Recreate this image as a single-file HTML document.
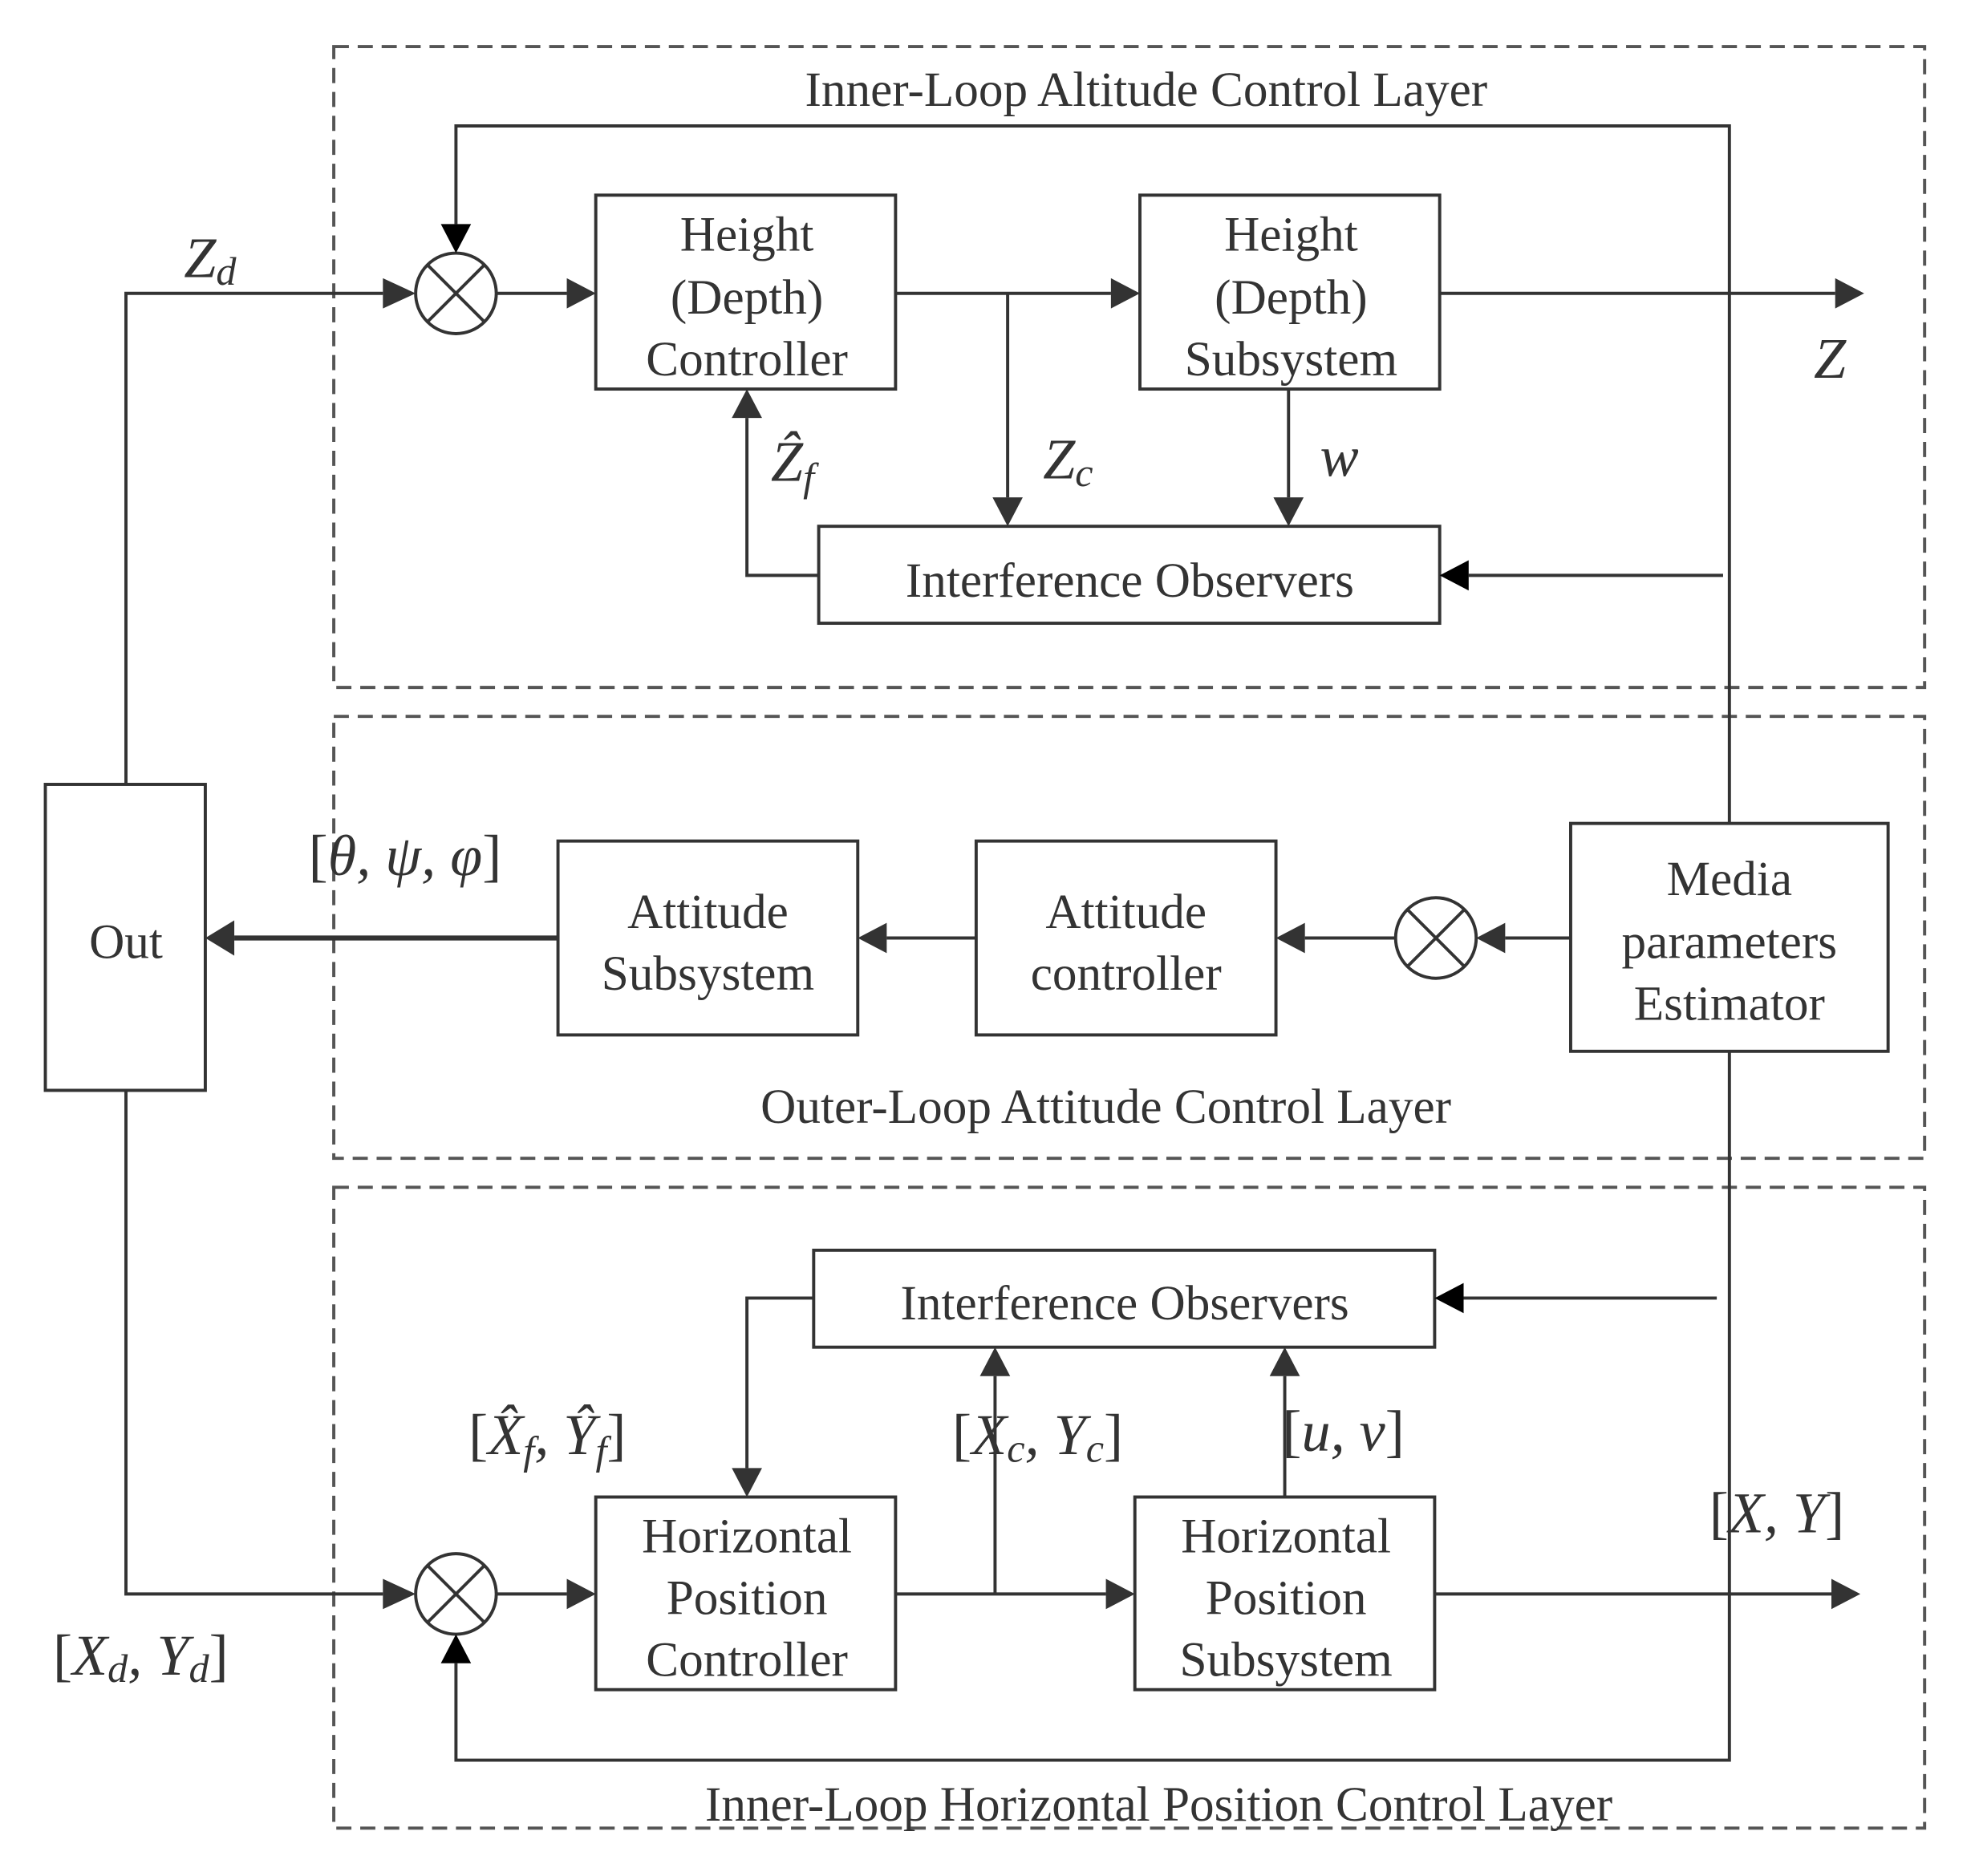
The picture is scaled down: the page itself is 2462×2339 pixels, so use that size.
<!DOCTYPE html>
<html><head><meta charset="utf-8"><style>
html,body{margin:0;padding:0;background:#fff;}
svg{display:block;}
text{font-family:"Liberation Serif",serif;fill:#333;}
.t{font-size:39px;text-anchor:middle;}
.m{font-size:46px;font-style:italic;}
</style></head><body>
<svg width="2462" height="2339" viewBox="0 0 1568 1490" preserveAspectRatio="none" xmlns="http://www.w3.org/2000/svg">
<g fill="none" stroke="#555" stroke-width="2.5" stroke-dasharray="12,7">
<rect x="265" y="37" width="1263" height="509"/>
<rect x="265" y="569" width="1263" height="351"/>
<rect x="265" y="943" width="1263" height="509"/>
</g>
<g fill="#fff" stroke="#333" stroke-width="2.5">
<rect x="36" y="623" width="127" height="243"/>
<rect x="473" y="155" width="238" height="154"/>
<rect x="905" y="155" width="238" height="154"/>
<rect x="650" y="418" width="493" height="77"/>
<rect x="1247" y="654" width="252" height="181"/>
<rect x="775" y="668" width="238" height="154"/>
<rect x="443" y="668" width="238" height="154"/>
<rect x="646" y="993" width="493" height="77"/>
<rect x="473" y="1189" width="238" height="153"/>
<rect x="901" y="1189" width="238" height="153"/>
</g>
<g stroke="#333" stroke-width="2.5" fill="none">
<circle cx="362" cy="233" r="32"/><path d="M339,210 L385,256 M385,210 L339,256"/>
<circle cx="1140" cy="745" r="32"/><path d="M1117,722 L1163,768 M1163,722 L1117,768"/>
<circle cx="362" cy="1266" r="32"/><path d="M339,1243 L385,1289 M385,1243 L339,1289"/>
</g>
<g stroke="#333" stroke-width="2.5" fill="none">
<polyline points="100,623 100,233 304,233"/>
<polyline points="1373,654 1373,100 362,100 362,178"/>
<line x1="394" y1="233" x2="450" y2="233"/>
<line x1="711" y1="233" x2="882" y2="233"/>
<line x1="800" y1="233" x2="800" y2="395"/>
<line x1="1143" y1="233" x2="1457" y2="233"/>
<line x1="1023" y1="309" x2="1023" y2="395"/>
<polyline points="650,457 593,457 593,332"/>
<line x1="1368" y1="457" x2="1166" y2="457"/>
<line x1="1247" y1="745" x2="1195" y2="745"/>
<line x1="1108" y1="745" x2="1036" y2="745"/>
<line x1="775" y1="745" x2="704" y2="745"/>
<line x1="443" y1="745" x2="186" y2="745" stroke-width="4"/>
<polyline points="1373,835 1373,1398 362,1398 362,1321"/>
<polyline points="100,866 100,1266 304,1266"/>
<line x1="394" y1="1266" x2="450" y2="1266"/>
<line x1="711" y1="1266" x2="878" y2="1266"/>
<line x1="790" y1="1266" x2="790" y2="1093"/>
<line x1="1020" y1="1189" x2="1020" y2="1093"/>
<line x1="1139" y1="1266" x2="1454" y2="1266"/>
<polyline points="646,1031 593,1031 593,1166"/>
<line x1="1363" y1="1031" x2="1162" y2="1031"/>
</g>
<g fill="#333">
<path d="M304,221 L330,233 L304,245z"/>
<path d="M350,178 L362,201 L374,178z" fill="#000"/>
<path d="M450,221 L473,233 L450,245z"/>
<path d="M882,221 L905,233 L882,245z"/>
<path d="M788,395 L800,418 L812,395z"/>
<path d="M1457,221 L1480,233 L1457,245z"/>
<path d="M1011,395 L1023,418 L1035,395z"/>
<path d="M581,332 L593,309 L605,332z"/>
<path d="M1166,445 L1143,457 L1166,469z" fill="#000"/>
<path d="M1195,733 L1172,745 L1195,757z"/>
<path d="M1036,733 L1013,745 L1036,757z"/>
<path d="M704,733 L681,745 L704,757z"/>
<path d="M186,731 L163,745 L186,759z"/>
<path d="M350,1321 L362,1298 L374,1321z" fill="#000"/>
<path d="M304,1254 L330,1266 L304,1278z"/>
<path d="M450,1254 L473,1266 L450,1278z"/>
<path d="M878,1254 L901,1266 L878,1278z"/>
<path d="M778,1093 L790,1070 L802,1093z"/>
<path d="M1008,1093 L1020,1070 L1032,1093z"/>
<path d="M1454,1254 L1477,1266 L1454,1278z"/>
<path d="M581,1166 L593,1189 L605,1166z"/>
<path d="M1162,1019 L1139,1031 L1162,1043z" fill="#000"/>
</g>
<text class="t" x="910" y="84">Inner-Loop Altitude Control Layer</text>
<text class="t" x="878" y="892">Outer-Loop Attitude Control Layer</text>
<text class="t" x="920" y="1446">Inner-Loop Horizontal Position Control Layer</text>
<text class="t" x="100" y="761">Out</text>
<text class="t" x="593" y="199">Height</text>
<text class="t" x="593" y="249">(Depth)</text>
<text class="t" x="593" y="298">Controller</text>
<text class="t" x="1025" y="199">Height</text>
<text class="t" x="1025" y="249">(Depth)</text>
<text class="t" x="1025" y="298">Subsystem</text>
<text class="t" x="897" y="474">Interference Observers</text>
<text class="t" x="893" y="1048">Interference Observers</text>
<text class="t" x="1373" y="711">Media</text>
<text class="t" x="1373" y="761">parameters</text>
<text class="t" x="1373" y="810">Estimator</text>
<text class="t" x="894" y="737">Attitude</text>
<text class="t" x="894" y="786">controller</text>
<text class="t" x="562" y="737">Attitude</text>
<text class="t" x="562" y="786">Subsystem</text>
<text class="t" x="593" y="1233">Horizontal</text>
<text class="t" x="593" y="1282">Position</text>
<text class="t" x="593" y="1331">Controller</text>
<text class="t" x="1021" y="1233">Horizontal</text>
<text class="t" x="1021" y="1282">Position</text>
<text class="t" x="1021" y="1331">Subsystem</text>
<text class="m" x="146" y="220">Z<tspan font-size="32" dy="6">d</tspan></text>
<text class="m" x="1440" y="300">Z</text>
<text class="m" x="612" y="382">Ẑ<tspan font-size="32" dy="8">f</tspan></text>
<text class="m" x="828" y="380">Z<tspan font-size="32" dy="6">c</tspan></text>
<text class="m" x="1048" y="378">w</text>
<text class="m" x="245" y="695" style="font-style:normal">[<tspan font-style="italic">θ, ψ, φ</tspan>]</text>
<text class="m" x="372" y="1155" style="font-style:normal">[<tspan font-style="italic">X̂</tspan><tspan font-size="32" dy="8" font-style="italic">f</tspan><tspan dy="-8" font-style="italic">, Ŷ</tspan><tspan font-size="32" dy="8" font-style="italic">f</tspan><tspan dy="-8">]</tspan></text>
<text class="m" x="756" y="1155" style="font-style:normal">[<tspan font-style="italic">X</tspan><tspan font-size="32" dy="6" font-style="italic">c</tspan><tspan dy="-6" font-style="italic">, Y</tspan><tspan font-size="32" dy="6" font-style="italic">c</tspan><tspan dy="-6">]</tspan></text>
<text class="m" x="1018" y="1152" style="font-style:normal">[<tspan font-style="italic">u, v</tspan>]</text>
<text class="m" x="1357" y="1217" style="font-style:normal">[<tspan font-style="italic">X, Y</tspan>]</text>
<text class="m" x="42" y="1330" style="font-style:normal">[<tspan font-style="italic">X</tspan><tspan font-size="32" dy="6" font-style="italic">d</tspan><tspan dy="-6" font-style="italic">, Y</tspan><tspan font-size="32" dy="6" font-style="italic">d</tspan><tspan dy="-6">]</tspan></text>
</svg>
</body></html>
